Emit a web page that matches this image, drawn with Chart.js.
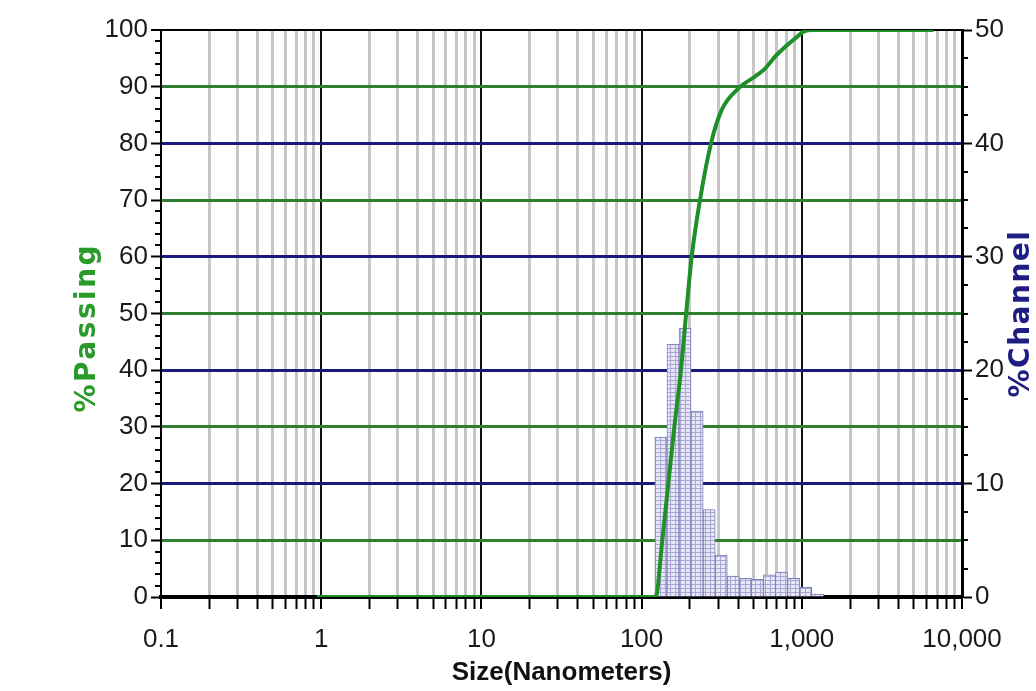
<!DOCTYPE html>
<html>
<head>
<meta charset="utf-8">
<script src="https://cdn.jsdelivr.net/npm/chart.js@4.4.1/dist/chart.umd.min.js"></script>
<style>
  html, body { margin: 0; padding: 0; background: #fff; }
  #wrap { width: 1036px; height: 691px; position: relative; }
</style>
</head>
<body>
<div id="wrap"><canvas id="psdChart" width="1036" height="691"></canvas></div>
<script>
// ===== data =====
// histogram channels (nm, geometric centre) and % in channel (right axis)
const channelSizes = [132.06, 157.05, 186.76, 222.10, 264.12, 314.10, 373.53, 444.20, 528.25, 628.20, 747.06, 888.41, 1056.5, 1256.4];
const channelPercent = [14.1, 22.3, 23.7, 16.4, 7.7, 3.7, 1.85, 1.65, 1.55, 1.95, 2.2, 1.65, 0.85, 0.25];

// cumulative % passing curve (left axis)
const passingSizes = [0.94, 122.3, 134.7, 146.8, 160.1, 176.0, 189.7, 205.4, 231.4, 271.2, 316.2, 402.2, 510.7, 589.7, 681, 786.4, 908, 1025, 1155, 6653];
const passingPercent = [0, 0, 10, 20, 30, 40, 50, 60, 70, 80, 85.9, 89.7, 91.8, 93.2, 95.3, 97, 98.5, 99.7, 100, 100];

// axis ticks
const sizeDecades = [0.1, 1, 10, 100, 1000, 10000];
const sizeLabels = ['0.1', '1', '10', '100', '1,000', '10,000'];

const GREEN_GRID = '#2f7f2f';
const NAVY_GRID = '#1a1a7e';
const CURVE_GREEN = '#1f8f28';
const TICK_FONT = { family: "'Liberation Sans', Arial, sans-serif", size: 26 };

// all log tick positions: 1..9 x each decade
const sizeTicks = [];
for (let d = 0; d < sizeDecades.length - 1; d++) {
    for (let m = 1; m <= 9; m++) sizeTicks.push(+(m * sizeDecades[d]).toPrecision(6));
}
sizeTicks.push(sizeDecades[sizeDecades.length - 1]);

const isDecade = (v) => sizeDecades.some(d => Math.abs(v - d) / d < 1e-6);
const tickVal = (c) => (c && c.tick) ? c.tick.value : NaN;

const makeBarPattern = () => {
    const c = document.createElement('canvas');
    c.width = 5; c.height = 4;
    const g = c.getContext('2d');
    g.fillStyle = '#a8a8d6'; g.fillRect(0, 0, 5, 4);
    g.fillStyle = '#e6e6f6'; g.fillRect(1, 1, 4, 3);
    return g.createPattern(c, 'repeat');
};

// minor ticks on both y axes + the two y axis titles (both read bottom to top)
const extrasPlugin = {
    id: 'extras',
    afterDraw(chart) {
        const ctx = chart.ctx;
        const yL = chart.scales.yL, yR = chart.scales.yR;
        ctx.save();
        ctx.strokeStyle = '#000';
        ctx.lineWidth = 2;
        for (let v = 0; v <= 100; v += 2) {
            if (v % 10 === 0) continue;
            const y = Math.round(yL.getPixelForValue(v));
            ctx.beginPath(); ctx.moveTo(yL.right - 6, y); ctx.lineTo(yL.right, y); ctx.stroke();
        }
        for (let v = 0; v <= 50; v += 2.5) {
            if (v % 10 === 0) continue;
            const y = Math.round(yR.getPixelForValue(v));
            ctx.beginPath(); ctx.moveTo(yR.left, y); ctx.lineTo(yR.left + 6, y); ctx.stroke();
        }
        ctx.font = "bold 28px 'DejaVu Sans', sans-serif";
        ctx.textAlign = 'center';
        ctx.textBaseline = 'middle';

        ctx.save();
        ctx.translate(88, yL.getPixelForValue(47.5));
        ctx.rotate(-Math.PI / 2);
        ctx.fillStyle = '#2a9a2a';
        ctx.letterSpacing = '2.5px';
        ctx.fillText('%Passing', 0, 0);
        ctx.restore();

        ctx.translate(yR.right - 14, yR.getPixelForValue(25));
        ctx.rotate(-Math.PI / 2);
        ctx.fillStyle = '#1e1e82';
        ctx.letterSpacing = '1.5px';
        ctx.fillText('%Channel', 0, 0);
        ctx.restore();
    }
};

const ctx = document.getElementById('psdChart').getContext('2d');
new Chart(ctx, {
    type: 'bar',
    data: {
        datasets: [{
            type: 'line',
            label: '% Passing',
            data: passingSizes.map((s, i) => ({ x: s, y: passingPercent[i] })),
            yAxisID: 'yL',
            borderColor: CURVE_GREEN,
            borderWidth: 4,
            pointRadius: 0,
            cubicInterpolationMode: 'monotone',
            order: 0
        }, {
            type: 'bar',
            label: '% Channel',
            data: channelSizes.map((s, i) => ({ x: s, y: channelPercent[i] })),
            yAxisID: 'yR',
            backgroundColor: makeBarPattern(),
            borderColor: '#7e7eb8',
            borderWidth: 1,
            barThickness: 'flex',
            categoryPercentage: 1,
            barPercentage: 1,
            order: 1
        }]
    },
    options: {
        responsive: false,
        animation: false,
        layout: { padding: { top: 30, left: 0, right: 0, bottom: 0 } },
        plugins: { legend: { display: false }, tooltip: { enabled: false } },
        scales: {
            x: {
                type: 'logarithmic',
                min: 0.1,
                max: 10000,
                offset: false,
                afterBuildTicks: (s) => { s.ticks = sizeTicks.map(v => ({ value: v, major: isDecade(v) })); },
                afterFit: (s) => { s.height = 94; },
                ticks: {
                    autoSkip: false,
                    maxRotation: 0,
                    color: '#1a1a1a',
                    font: TICK_FONT,
                    padding: 15,
                    callback: (v) => {
                        const i = sizeDecades.findIndex(d => Math.abs(v - d) / d < 1e-6);
                        return i >= 0 ? sizeLabels[i] : '';
                    }
                },
                grid: {
                    offset: false,
                    color: (c) => isDecade(tickVal(c)) ? '#111' : '#c6c6c6',
                    lineWidth: (c) => isDecade(tickVal(c)) ? 2 : 3,
                    tickColor: '#000',
                    tickWidth: 2,
                    tickLength: 12
                },
                border: { color: '#000', width: 4 },
                title: {
                    display: true,
                    text: 'Size(Nanometers)',
                    color: '#111',
                    font: { family: "'Liberation Sans', Arial, sans-serif", size: 26, weight: 'bold' },
                    padding: { top: 0, bottom: 3 }
                }
            },
            yL: {
                position: 'left',
                min: 0,
                max: 100,
                afterFit: (s) => { s.width = 161; },
                ticks: { stepSize: 10, color: '#1a1a1a', font: TICK_FONT, padding: 3 },
                grid: {
                    color: (c) => {
                        const v = tickVal(c);
                        if (v === 0 || v === 100 || isNaN(v)) return '#000';
                        return v % 20 === 0 ? NAVY_GRID : GREEN_GRID;
                    },
                    lineWidth: (c) => tickVal(c) === 100 ? 2 : 3,
                    tickColor: '#000',
                    tickWidth: 2,
                    tickLength: 10
                },
                border: { color: '#000', width: 2 }
            },
            yR: {
                position: 'right',
                min: 0,
                max: 50,
                afterFit: (s) => { s.width = 74; },
                ticks: { stepSize: 10, color: '#1a1a1a', font: TICK_FONT, padding: 3 },
                grid: { drawOnChartArea: false, tickColor: '#000', tickWidth: 2, tickLength: 10 },
                border: { color: '#000', width: 3 }
            }
        }
    },
    plugins: [extrasPlugin]
});
</script>
</body>
</html>
